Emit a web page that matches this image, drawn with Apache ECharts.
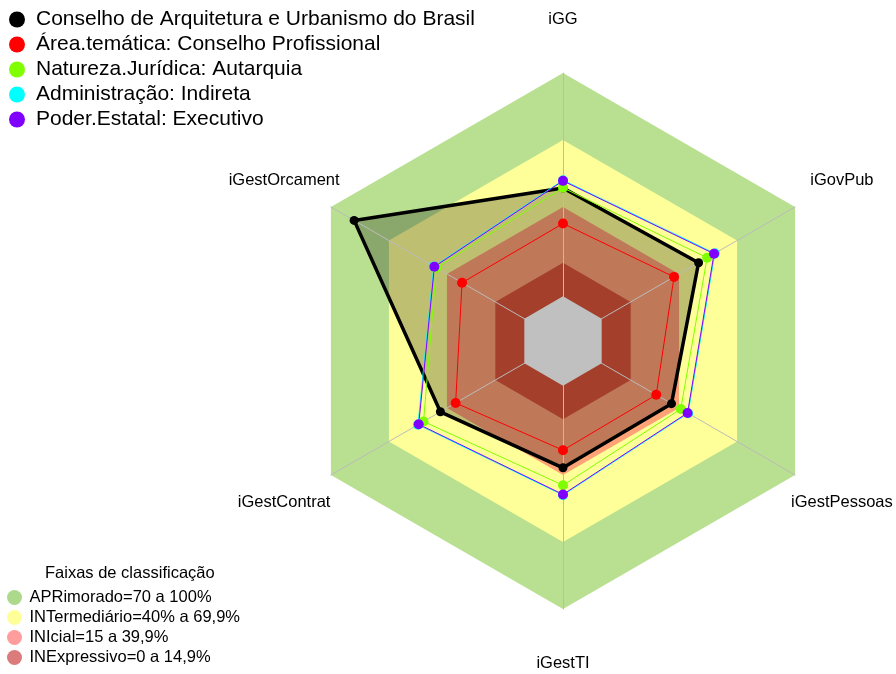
<!DOCTYPE html>
<html>
<head>
<meta charset="utf-8">
<script src="https://cdn.jsdelivr.net/npm/echarts@6/dist/echarts.min.js"></script>
<style>
html, body { margin: 0; padding: 0; background: #fff; }
#myChart { width: 896px; height: 674px; }
</style>
</head>
<body>
<div id="myChart"></div>
<script>
// eixos no sentido horario a partir do topo
var categorias = ['iGG', 'iGovPub', 'iGestPessoas', 'iGestTI', 'iGestContrat', 'iGestOrcament'];

var nomesSeries = [
	'Conselho de Arquitetura e Urbanismo do Brasil',
	'Área.temática: Conselho Profissional',
	'Natureza.Jurídica: Autarquia',
	'Administração: Indireta',
	'Poder.Estatal: Executivo'
];
var cau = [48.5, 50.1, 36.1, 36.8, 43.4, 88.0];
var areaTematica = [32.6, 37.4, 28.2, 28.9, 35.5, 32.2];
var naturezaJuridica = [48.6, 54.5, 40.9, 44.6, 52.1, 45.5];
var administracao = [52.0, 58.5, 44.7, 49.0, 55.0, 46.8];
var poderEstatal = [51.7, 58.1, 44.4, 48.7, 54.6, 46.5];

// faixas de classificacao (limite superior de cada faixa)
var faixasNomes = ['APRimorado=70 a 100%', 'INTermediário=40% a 69,9%', 'INIcial=15 a 39,9%', 'INExpressivo=0 a 14,9%'];
var faixasLimites = [100, 70, 40, 15];

// ordem de desenho do echarts (anti-horario)
var ordem = [0, 5, 4, 3, 2, 1];
function reordena(arr) { return ordem.map(function (i) { return arr[i]; }); }
function constante(v) { return categorias.map(function () { return v; }); }

var coresSeries = ['#000000', '#ff0000', '#80ff00', '#00ffff', '#8000ff'];
var coresFaixas = ['#b8e090', '#ffff99', '#ffa276', '#da543a'];
var coresLegFaixas = ['#acd98c', '#ffff99', '#ff9c9c', '#db7b7b'];

var fonte = 'Liberation Sans, Arial, sans-serif';

var series = [];
faixasLimites.forEach(function (lim, i) {
	series.push({
		type: 'radar', name: faixasNomes[i], z: 1, silent: true,
		symbol: 'none', lineStyle: { width: 0, opacity: 0 },
		itemStyle: { color: coresFaixas[i] },
		areaStyle: { color: coresFaixas[i], opacity: 1 },
		data: [{ value: reordena(constante(lim)) }]
	});
});
// preenchimento do poligono do CAU
series.push({
	type: 'radar', name: 'preenchimento', z: 1, silent: true,
	symbol: 'none', lineStyle: { width: 0, opacity: 0 },
	areaStyle: { color: '#000', opacity: 0.25 },
	data: [{ value: reordena(cau) }]
});
// miolo cinza
series.push({
	type: 'radar', name: 'miolo', z: 3, silent: true,
	symbol: 'none', lineStyle: { width: 0, opacity: 0 },
	areaStyle: { color: '#c0c0c0', opacity: 1 },
	data: [{ value: reordena(constante(0)) }]
});
[cau, areaTematica, naturezaJuridica, administracao, poderEstatal].forEach(function (vals, i) {
	series.push({
		type: 'radar', name: nomesSeries[i], z: 4,
		symbol: 'circle', symbolSize: i === 0 ? 9 : 10,
		itemStyle: { color: coresSeries[i] },
		lineStyle: { color: coresSeries[i], width: i === 0 ? 3.5 : 1, opacity: 1 },
		data: [{ value: reordena(vals) }]
	});
});

var option = {
	animation: false,
	backgroundColor: '#fff',
	title: {
		text: 'Faixas de classificação',
		left: 40, top: 560,
		textStyle: { fontSize: 16.5, fontWeight: 'normal', color: '#000', fontFamily: fonte }
	},
	legend: [{
		orient: 'vertical', left: 4, top: 4,
		icon: 'circle', itemWidth: 28, itemHeight: 16, itemGap: 4,
		selectedMode: false,
		textStyle: { fontSize: 21, color: '#000', fontFamily: fonte },
		data: nomesSeries
	}, {
		orient: 'vertical', left: 7, top: 589, padding: 0,
		icon: 'circle', itemWidth: 20, itemHeight: 15, itemGap: 3,
		selectedMode: false,
		textStyle: { fontSize: 16.5, color: '#000', fontFamily: fonte },
		data: faixasNomes.map(function (n, i) {
			return { name: n, itemStyle: { color: coresLegFaixas[i] } };
		})
	}],
	radar: {
		center: [563, 341],
		radius: 268,
		z: 2,
		shape: 'polygon',
		startAngle: 90,
		indicator: reordena(categorias).map(function (c) { return { name: c, min: -20, max: 100 }; }),
		nameGap: 54,
		axisName: { color: '#000', fontSize: 16.5, fontFamily: fonte, align: 'center', verticalAlign: 'middle' },
		axisLine: { lineStyle: { color: '#bbbbbb', width: 1 } },
		axisTick: { show: false },
		axisLabel: { show: false },
		splitLine: { show: false },
		splitArea: { show: false }
	},
	series: series
};

var myChart = echarts.init(document.getElementById('myChart'));
myChart.setOption(option);
</script>
</body>
</html>
